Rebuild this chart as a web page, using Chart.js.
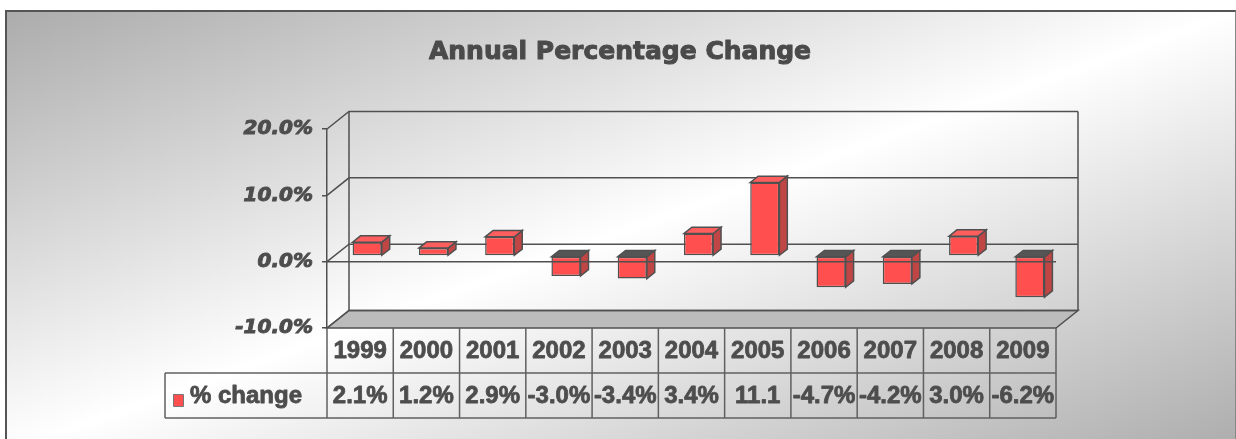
<!DOCTYPE html>
<html>
<head>
<meta charset="utf-8">
<script src="https://cdn.jsdelivr.net/npm/chart.js@4"></script>
<style>
  html, body { margin: 0; padding: 0; width: 1236px; height: 439px; overflow: hidden; background: #fff; }
  #frame {
    position: absolute; left: 5px; top: 10px; width: 1228px; height: 440px;
    border-top: 2px solid #555; border-left: 2px solid #555; border-right: 1px solid #888;
    background: linear-gradient(to bottom right, #acacac 0%, #ffffff 50%, #acacac 100%);
  }
  #c { position: absolute; left: 0; top: 0; }
</style>
</head>
<body>
<div id="frame"></div>
<canvas id="c" width="1236" height="439"></canvas>
<script>
"use strict";

const TITLE = "Annual Percentage Change";
const SERIES = "% change";
const years = ["1999", "2000", "2001", "2002", "2003", "2004", "2005", "2006", "2007", "2008", "2009"];
const pctChange = [2.1, 1.2, 2.9, -3.0, -3.4, 3.4, 11.1, -4.7, -4.2, 3.0, -6.2];
const Y_MIN = -10, Y_MAX = 20, Y_STEP = 10;

// 3D look: front plane -> back wall offset, bars sit between two depths.
const DEPTH_X = 22, DEPTH_Y = -17.5;
const BAR_FRONT = 0.32, BAR_BACK = 0.68;
const EDGE = "#505050";
const TEXT = "#4d4d4d";
const RED = "#ff4f4f", RED_SIDE = "#c04646", RED_TOP = "#ff5e5e", NEG_CAP = "#555555";
const TABLE_FONT = "bold 24px 'Liberation Sans', Arial, sans-serif";
const TITLE_FONT = "bold 25px 'DejaVu Sans', sans-serif";
const LEGEND_X = 165, ROW_H = 45;

const $ = (id) => document.getElementById(id);

function poly(ctx, pts, fill) {
  ctx.beginPath();
  pts.forEach(([x, y], i) => (i ? ctx.lineTo(x, y) : ctx.moveTo(x, y)));
  ctx.closePath();
  ctx.fillStyle = fill;
  ctx.fill();
  ctx.stroke();
}

// heavy text: thin stroke under the fill
function heavyText(ctx, s, x, y, w) {
  ctx.lineWidth = w;
  ctx.strokeStyle = ctx.fillStyle;
  ctx.lineJoin = "round";
  ctx.strokeText(s, x, y);
  ctx.fillText(s, x, y);
}

const threeD = {
  id: "threeD",
  beforeDatasetsDraw(chart) {
    const { ctx, chartArea: a, scales: { y } } = chart;
    ctx.save();
    ctx.lineWidth = 1.5;
    ctx.strokeStyle = EDGE;

    // floor
    poly(ctx, [[a.left, a.bottom], [a.right, a.bottom],
               [a.right + DEPTH_X, a.bottom + DEPTH_Y], [a.left + DEPTH_X, a.bottom + DEPTH_Y]], "#bcbcbc");

    // side wall connectors + back wall gridlines
    y.ticks.forEach((t) => {
      const py = y.getPixelForValue(t.value);
      ctx.beginPath();
      ctx.moveTo(a.left, py);
      ctx.lineTo(a.left + DEPTH_X, py + DEPTH_Y);
      ctx.lineTo(a.right + DEPTH_X, py + DEPTH_Y);
      ctx.stroke();
    });
    ctx.beginPath();
    ctx.moveTo(a.left + DEPTH_X, a.top + DEPTH_Y); ctx.lineTo(a.left + DEPTH_X, a.bottom + DEPTH_Y);
    ctx.moveTo(a.right + DEPTH_X, a.top + DEPTH_Y); ctx.lineTo(a.right + DEPTH_X, a.bottom + DEPTH_Y);
    ctx.stroke();

    // side and top faces of the columns
    const fx = DEPTH_X * BAR_FRONT, fy = DEPTH_Y * BAR_FRONT;
    const dx = DEPTH_X * (BAR_BACK - BAR_FRONT), dy = DEPTH_Y * (BAR_BACK - BAR_FRONT);
    chart.getDatasetMeta(0).data.forEach((bar, i) => {
      const p = bar.getProps(["x", "y", "base", "width"], true);
      const x0 = p.x - p.width / 2 + fx, x1 = p.x + p.width / 2 + fx;
      const top = Math.min(p.y, p.base) + fy, bot = Math.max(p.y, p.base) + fy;
      poly(ctx, [[x1, top], [x1 + dx, top + dy], [x1 + dx, bot + dy], [x1, bot]], RED_SIDE);
      poly(ctx, [[x0, top], [x1, top], [x1 + dx, top + dy], [x0 + dx, top + dy]],
           pctChange[i] >= 0 ? RED_TOP : NEG_CAP);
    });
    // front faces are drawn by Chart.js, shifted into depth
    ctx.translate(fx, fy);
  },
  afterDatasetsDraw(chart) {
    const { ctx, chartArea: a, scales: { y } } = chart;
    ctx.restore();
    // category axis line at 0 on the front plane
    ctx.save();
    ctx.lineWidth = 1.5; ctx.strokeStyle = EDGE;
    const z = y.getPixelForValue(0);
    ctx.beginPath(); ctx.moveTo(a.left, z); ctx.lineTo(a.right, z); ctx.stroke();
    ctx.restore();
  },
  afterDraw(chart) {
    const { ctx, chartArea: a, scales: { x } } = chart;
    const n = years.length;
    const catW = (a.right - a.left) / n;
    const r0 = a.bottom, r1 = r0 + ROW_H, r2 = r1 + ROW_H;
    ctx.save();

    // title, centred on the whole frame
    ctx.font = TITLE_FONT;
    ctx.fillStyle = "#4a4a4a";
    ctx.textAlign = "center";
    ctx.textBaseline = "middle";
    heavyText(ctx, TITLE, 620, 52, 1);

    ctx.lineWidth = 1.5; ctx.strokeStyle = "#606060";
    ctx.beginPath();
    for (let i = 0; i <= n; i++) {
      const px = a.left + i * catW;
      ctx.moveTo(px, r0); ctx.lineTo(px, r2);
    }
    ctx.moveTo(LEGEND_X, r1); ctx.lineTo(a.right, r1);
    ctx.moveTo(LEGEND_X, r2); ctx.lineTo(a.right, r2);
    ctx.moveTo(LEGEND_X, r1); ctx.lineTo(LEGEND_X, r2);
    ctx.stroke();

    ctx.font = TABLE_FONT;
    ctx.fillStyle = TEXT;
    years.forEach((yr, i) => {
      const cx = x.getPixelForValue(i);
      heavyText(ctx, yr, cx, (r0 + r1) / 2 + 1, 0.8);
      let lbl = pctChange[i].toFixed(1) + "%";
      if (ctx.measureText(lbl).width > catW - 2) lbl = pctChange[i].toFixed(1);
      heavyText(ctx, lbl, cx, (r1 + r2) / 2 + 1, 0.8);
    });

    // legend key
    ctx.fillStyle = RED;
    ctx.strokeStyle = "#777";
    ctx.lineWidth = 1;
    ctx.fillRect(173, 394, 10, 12);
    ctx.strokeRect(173.5, 394.5, 10, 12);
    ctx.fillStyle = TEXT;
    ctx.textAlign = "left";
    heavyText(ctx, SERIES, 190, (r1 + r2) / 2 + 1, 0.8);
    ctx.restore();
  },
};

new Chart($("c"), {
  type: "bar",
  data: {
    labels: years,
    datasets: [{
      label: SERIES,
      data: pctChange,
      backgroundColor: RED,
      borderColor: EDGE,
      borderWidth: 1.5,
      borderSkipped: false,
      categoryPercentage: 1,
      barPercentage: 0.44,
    }],
  },
  plugins: [threeD],
  options: {
    responsive: false, animation: false, devicePixelRatio: 1,
    layout: { padding: { left: 0, right: 180, top: 129, bottom: 111 } },
    events: [],
    scales: {
      x: { display: false, offset: true },
      y: {
        min: Y_MIN, max: Y_MAX,
        afterFit: (s) => { s.width = 327; },
        ticks: {
          stepSize: Y_STEP, padding: 9, color: TEXT,
          textStrokeColor: TEXT, textStrokeWidth: 1,
          font: { family: "'DejaVu Sans'", size: 20, weight: "bold", style: "italic" },
          callback: (v) => v.toFixed(1) + "%",
        },
        grid: { drawOnChartArea: false, drawTicks: true, tickLength: 5, color: EDGE, lineWidth: 1.5 },
        border: { display: true, color: EDGE, width: 1.5 },
      },
    },
    plugins: {
      legend: { display: false },
      tooltip: { enabled: false },
      title: { display: false },
    },
  },
});
</script>
</body>
</html>
